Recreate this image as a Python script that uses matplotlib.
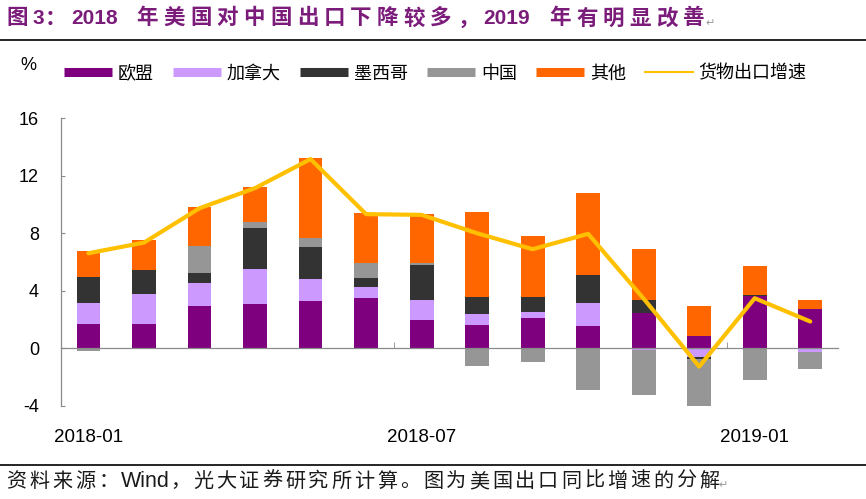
import numpy as np
import matplotlib
matplotlib.use("Agg")
import matplotlib.pyplot as plt
from matplotlib.lines import Line2D
from matplotlib.transforms import IdentityTransform

plt.rcParams["font.family"] = ["Liberation Sans", "Noto Sans CJK SC", "DejaVu Sans"]
plt.rcParams["axes.unicode_minus"] = False

# data (% contribution to US export growth, yoy)
months = ["2018-01", "2018-02", "2018-03", "2018-04", "2018-05", "2018-06", "2018-07",
          "2018-08", "2018-09", "2018-10", "2018-11", "2018-12", "2019-01", "2019-02"]
eu = [1.69, 1.69, 2.95, 3.09, 3.29, 3.50, 1.93, 1.62, 2.11, 1.55, 2.48, 0.86, 3.60, 2.71]
canada = [1.49, 2.05, 1.62, 2.43, 1.56, 0.77, 1.44, 0.77, 0.42, 1.63, -0.10, -0.58, 0.00, -0.23]
mexico = [1.79, 1.67, 0.63, 2.86, 2.20, 0.63, 2.39, 1.18, 1.04, 1.92, 0.88, -0.18, 0.11, 0.00]
china = [-0.16, 0.05, 1.92, 0.37, 0.61, 1.04, 0.16, -1.21, -0.93, -2.88, -3.19, -3.37, -2.20, -1.19]
other = [1.81, 2.06, 2.69, 2.46, 5.59, 3.46, 3.41, 5.90, 4.25, 5.69, 3.53, 2.09, 2.02, 0.65]
growth = [6.61, 7.35, 9.74, 11.14, 13.16, 9.33, 9.28, 8.00, 6.89, 7.96, 3.45, -1.28, 3.48, 1.86]

names = ["欧盟", "加拿大", "墨西哥", "中国", "其他"]
colors = ["#7F007F", "#CC99FF", "#333333", "#969696", "#FF6600"]
line_name = "货物出口增速"
line_color = "#FFC000"
gray = "#8a8a8a"

W, H = 866, 499
fig = plt.figure(figsize=(W / 100, H / 100), dpi=100)
ax = fig.add_axes([60.7 / W, 1 - 405.7 / H, (838 - 60.7) / W, (405.7 - 118.3) / H])

x = np.arange(len(months))
pos = np.zeros(len(months))
neg = np.zeros(len(months))
for vals, c in zip([eu, canada, mexico, china, other], colors):
    v = np.array(vals)
    bottom = np.where(v >= 0, pos, neg)
    ax.bar(x, v, 0.43, bottom=bottom, color=c, zorder=2)
    pos += np.clip(v, 0, None)
    neg += np.clip(v, None, 0)
ax.plot(x, growth, color=line_color, lw=3, zorder=3,
        solid_capstyle="round", solid_joinstyle="round")

ax.set_xlim(-0.5, 13.5)
ax.set_ylim(-4, 16)
ax.set_yticks([-4, 0, 4, 8, 12, 16])
ax.set_xticks([0, 6, 12], [months[0], months[6], months[12]])
ax.set_xticks([5.5, 11.5], minor=True)
for s in ["top", "right"]:
    ax.spines[s].set_visible(False)
ax.spines["bottom"].set_position(("data", 0))
for s in ["left", "bottom"]:
    ax.spines[s].set_color(gray)
    ax.spines[s].set_linewidth(0.9)
ax.tick_params(axis="x", which="major", length=0, pad=58, labelsize=13.5)
ax.tick_params(axis="x", which="minor", direction="in", length=4, color=gray)
ax.tick_params(axis="y", direction="in", length=3, color=gray, pad=15.6, labelsize=13)

# legend
handles = [Line2D([], [], color=c, lw=6.5, solid_capstyle="butt") for c in colors]
handles.append(Line2D([], [], color=line_color, lw=1.5))
fig.legend(handles, names + [line_name], loc="center left",
           bbox_to_anchor=(64 / W, 1 - 74 / H), ncol=6, frameon=False, fontsize=13,
           handlelength=2.66, handletextpad=0.33, columnspacing=1.05,
           borderpad=0, borderaxespad=0)
fig.text(20 / W, 1 - 65 / H, "%", fontsize=13, va="center", ha="left")

# horizontal rules
for yy in [40, 465]:
    fig.add_artist(Line2D([0, 1], [1 - yy / H] * 2, transform=fig.transFigure,
                          color="black", lw=1.2))


def spaced_text(x, y, s, pitch, space, size, color, weight="normal", latin_size=None):
    """Lay out text char by char (in pixels) to mimic wide CJK letter spacing."""
    r = fig.canvas.get_renderer()
    tr = IdentityTransform()
    run = ""
    for ch in s + "\0":
        is_cjk = ord(ch) >= 0x2E80
        if (is_cjk or ch in " \0") and run:
            t = fig.text(x, y, run, transform=tr, fontsize=latin_size or size,
                         color=color, fontweight=weight, family="Liberation Sans",
                         va="baseline", ha="left")
            x += t.get_window_extent(r).width
            run = ""
        if ch == " ":
            x += space
        elif ch == "\0":
            pass
        elif is_cjk:
            fig.text(x, y, ch, transform=tr, fontsize=size, color=color,
                     fontweight=weight, family="Noto Sans CJK SC",
                     va="baseline", ha="left")
            x += pitch
        else:
            run += ch
    return x


title = "图3：2018 年美国对中国出口下降较多，2019 年有明显改善"
xe = spaced_text(6, H - 24.5, title, 26.7, 19, 15.5, "#7B1C7B", weight="bold",
                 latin_size=15)
fig.text(xe - 4, H - 26, "↵", transform=IdentityTransform(), fontsize=8,
         color="#9a9a9a", family="DejaVu Sans", va="baseline")

source = "资料来源：Wind，光大证券研究所计算。图为美国出口同比增速的分解"
xe = spaced_text(6, H - 487, source, 23, 10, 14.5, "#1a1a1a", latin_size=15.5)
fig.text(xe - 3, H - 488, "↵", transform=IdentityTransform(), fontsize=8,
         color="#9a9a9a", family="DejaVu Sans", va="baseline")

fig.savefig("out.png", dpi=100)
